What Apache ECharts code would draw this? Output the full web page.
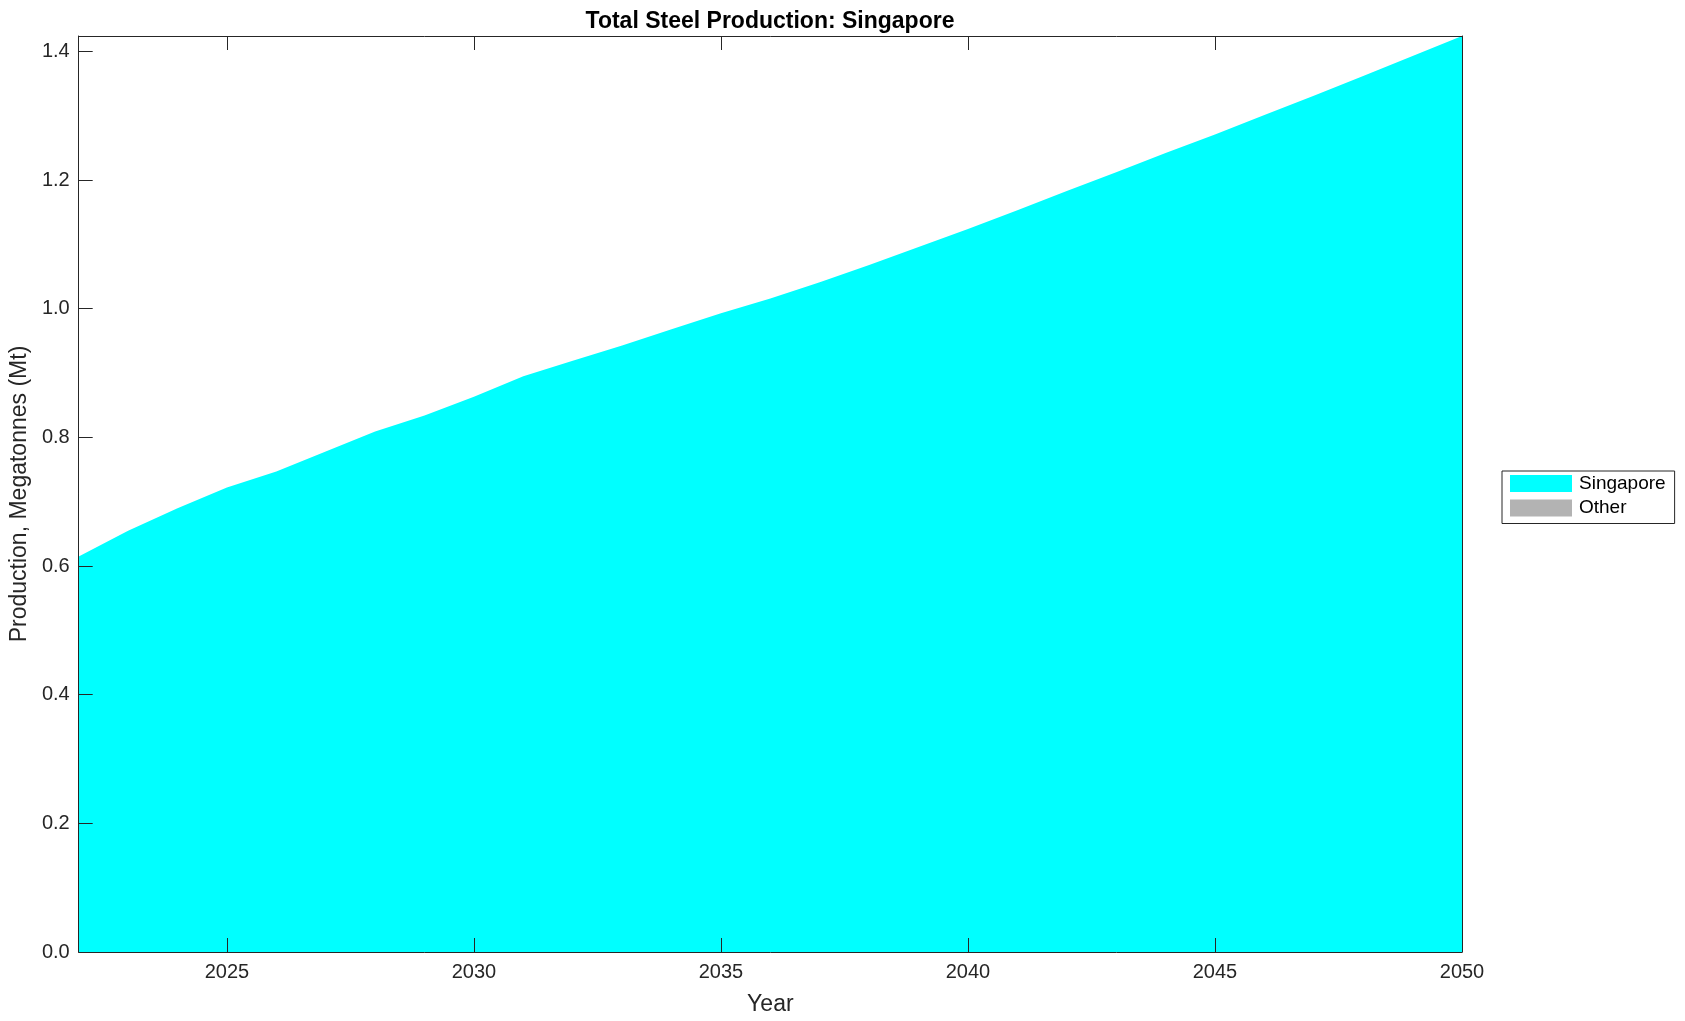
<!DOCTYPE html>
<html>
<head>
<meta charset="utf-8">
<title>Total Steel Production: Singapore</title>
<script src="https://cdn.jsdelivr.net/npm/echarts@6/dist/echarts.min.js"></script>
<style>
  html, body { margin: 0; padding: 0; background: #fff; }
  #chart { width: 1685px; height: 1021px; }
</style>
</head>
<body>
<div id="chart"></div>
<script>
// data
const years = [2022, 2023, 2024, 2025, 2026, 2027, 2028, 2029, 2030, 2031,
  2032, 2033, 2034, 2035, 2036, 2037, 2038, 2039, 2040, 2041,
  2042, 2043, 2044, 2045, 2046, 2047, 2048, 2049, 2050]
const singapore = [0.615, 0.655, 0.690, 0.722, 0.747, 0.778, 0.809, 0.834, 0.863, 0.895,
  0.919, 0.943, 0.968, 0.993, 1.016, 1.041, 1.068, 1.096, 1.124, 1.153,
  1.183, 1.212, 1.242, 1.271, 1.301, 1.331, 1.362, 1.393, 1.424]
const other = [0, 0, 0, 0, 0, 0, 0, 0, 0, 0,
  0, 0, 0, 0, 0, 0, 0, 0, 0, 0,
  0, 0, 0, 0, 0, 0, 0, 0, 0]
const seriesNames = ['Singapore', 'Other']

const font = '"Liberation Sans", Helvetica, Arial, sans-serif'
const axisColor = '#262626'
const tickLen = 14

const pairs = (ys) => years.map((y, i) => [y, ys[i]])

// only label the "nice" ticks, not the edge ones
const yLabel = (v) => Math.abs(v / 0.2 - Math.round(v / 0.2)) < 1e-6 ? v.toFixed(1) : ''
const xLabel = (v) => v % 5 === 0 ? String(v) : ''

// box axis (matlab style): line + inward ticks, never moved onto zero
const boxLine = { show: true, onZero: false, lineStyle: { color: axisColor, width: 1 } }
const boxTick = { show: true, inside: true, length: tickLen, lineStyle: { color: axisColor } }

const chart = echarts.init(document.getElementById('chart'))

chart.setOption({
  animation: false,
  textStyle: { fontFamily: font },
  title: {
    text: 'Total Steel Production: Singapore',
    left: 765,
    top: 5,
    textAlign: 'center',
    textStyle: { fontSize: 23, fontWeight: 'bold', color: '#000', fontFamily: font }
  },
  grid: { left: 77, right: 223, top: 36, bottom: 68, containLabel: false },
  legend: {
    orient: 'vertical',
    left: 1502,
    top: 471,
    itemWidth: 62,
    itemHeight: 17,
    itemGap: 5.5,
    padding: [3, 9, 6, 8],
    borderColor: axisColor,
    borderWidth: 1,
    icon: 'rect',
    data: seriesNames,
    textStyle: { fontSize: 19, color: '#000', fontFamily: font, padding: [0, 0, 0, 2] }
  },
  xAxis: [
    {
      type: 'value',
      z: 10,
      min: 2022,
      max: 2050,
      name: 'Year',
      nameLocation: 'middle',
      nameGap: 41,
      nameTextStyle: { fontSize: 23, color: axisColor },
      axisLine: boxLine,
      axisTick: boxTick,
      axisLabel: { formatter: xLabel, fontSize: 20, color: axisColor, margin: 10 },
      splitLine: { show: false }
    },
    {
      type: 'value',
      z: 10,
      position: 'top',
      min: 2022,
      max: 2050,
      axisLine: boxLine,
      axisTick: boxTick,
      axisLabel: { show: false },
      splitLine: { show: false }
    }
  ],
  yAxis: [
    {
      type: 'value',
      z: 10,
      min: 0,
      max: (v) => v.max,
      interval: 0.2,
      name: 'Production, Megatonnes (Mt)',
      nameLocation: 'middle',
      nameGap: 44,
      nameTextStyle: { fontSize: 23, color: axisColor },
      axisLine: boxLine,
      axisTick: boxTick,
      axisLabel: { formatter: yLabel, fontSize: 20, color: axisColor, margin: 9 },
      splitLine: { show: false }
    },
    {
      type: 'value',
      z: 10,
      position: 'right',
      min: 0,
      max: (v) => v.max,
      interval: 0.2,
      axisLine: boxLine,
      axisTick: boxTick,
      axisLabel: { show: false },
      splitLine: { show: false }
    }
  ],
  series: [
    {
      name: seriesNames[0],
      type: 'line',
      stack: 'total',
      data: pairs(singapore),
      showSymbol: false,
      color: '#00ffff',
      lineStyle: { width: 0 },
      areaStyle: { color: '#00ffff', opacity: 1 },
      z: 1
    },
    {
      name: seriesNames[1],
      type: 'line',
      stack: 'total',
      data: pairs(other),
      showSymbol: false,
      color: '#b3b3b3',
      lineStyle: { width: 0 },
      areaStyle: { color: '#b3b3b3', opacity: 1 },
      z: 1
    }
  ]
})
</script>
</body>
</html>
